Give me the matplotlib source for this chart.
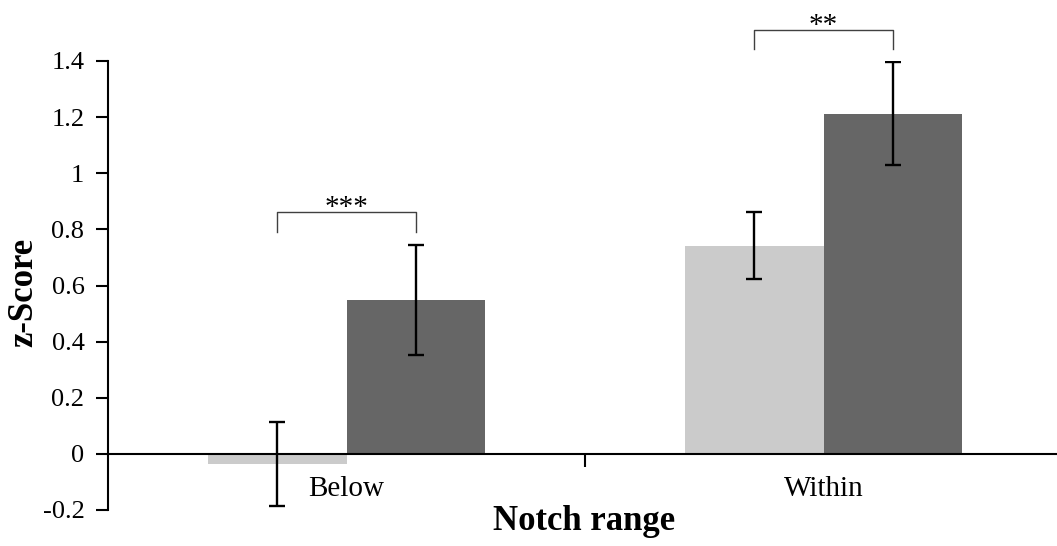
import numpy as np
import matplotlib as mpl
mpl.use('Agg')
import matplotlib.pyplot as plt

plt.rcParams['font.family'] = ['Liberation Serif', 'DejaVu Serif']

# data
categories = ['Below', 'Within']
light_vals = [-0.035, 0.742]
light_err = [0.150, 0.120]
dark_vals = [0.548, 1.212]
dark_err = [0.196, 0.183]
stars = ['***', '**']
bracket_low = [0.792, 1.443]
bracket_high = [0.862, 1.510]

light_col = '#cbcbcb'
dark_col = '#666666'

fig = plt.figure(figsize=(10.57, 5.46), dpi=100)
ax = fig.add_axes([108 / 1057, 36 / 546, 949 / 1057, 449 / 546])

x = np.arange(len(categories))
w = 0.291
ax.bar(x - w / 2, light_vals, w, color=light_col, zorder=2)
ax.bar(x + w / 2, dark_vals, w, color=dark_col, zorder=2)
ax.errorbar(x - w / 2, light_vals, yerr=light_err, fmt='none', ecolor='black',
            elinewidth=1.7, capsize=6, capthick=1.7, zorder=3)
ax.errorbar(x + w / 2, dark_vals, yerr=dark_err, fmt='none', ecolor='black',
            elinewidth=1.7, capsize=6, capthick=1.7, zorder=3)

# significance brackets
for i in range(len(categories)):
    x0, x1 = x[i] - w / 2, x[i] + w / 2
    ax.plot([x0, x0, x1, x1], [bracket_low[i], bracket_high[i], bracket_high[i], bracket_low[i]],
            color='#404040', lw=1.0, clip_on=False, zorder=4)
    ax.text(x[i], bracket_high[i] - 0.012, stars[i], ha='center', va='baseline',
            fontsize=21, clip_on=False)

ax.set_xlim(-0.5, -0.5 + 949 / 477)
ax.set_ylim(-0.2, 1.4)
ax.set_yticks(np.arange(-0.2, 1.41, 0.2))
ax.set_yticklabels(['-0.2', '0', '0.2', '0.4', '0.6', '0.8', '1', '1.2', '1.4'])

ax.spines['top'].set_visible(False)
ax.spines['right'].set_visible(False)
ax.spines['bottom'].set_position(('data', 0))
ax.spines['left'].set_linewidth(1.5)
ax.spines['bottom'].set_linewidth(1.5)

ax.set_xticks([0.5])
ax.set_xticklabels([''])
ax.set_xticks(x, categories, minor=True)
ax.tick_params(axis='x', which='major', direction='out', length=9, width=1.5)
ax.tick_params(axis='x', which='minor', length=0, pad=16, labelsize=21)
ax.tick_params(axis='y', direction='out', length=9, width=1.5, pad=8, labelsize=19)

fig.text(584 / 1057, 1 - 522 / 546, 'Notch range', ha='center', va='center',
         fontsize=25, fontweight='bold')
fig.text(24 / 1057, 1 - 292 / 546, 'z-Score', ha='center', va='center',
         rotation=90, fontsize=25, fontweight='bold')

fig.savefig('out.png', dpi=100)
